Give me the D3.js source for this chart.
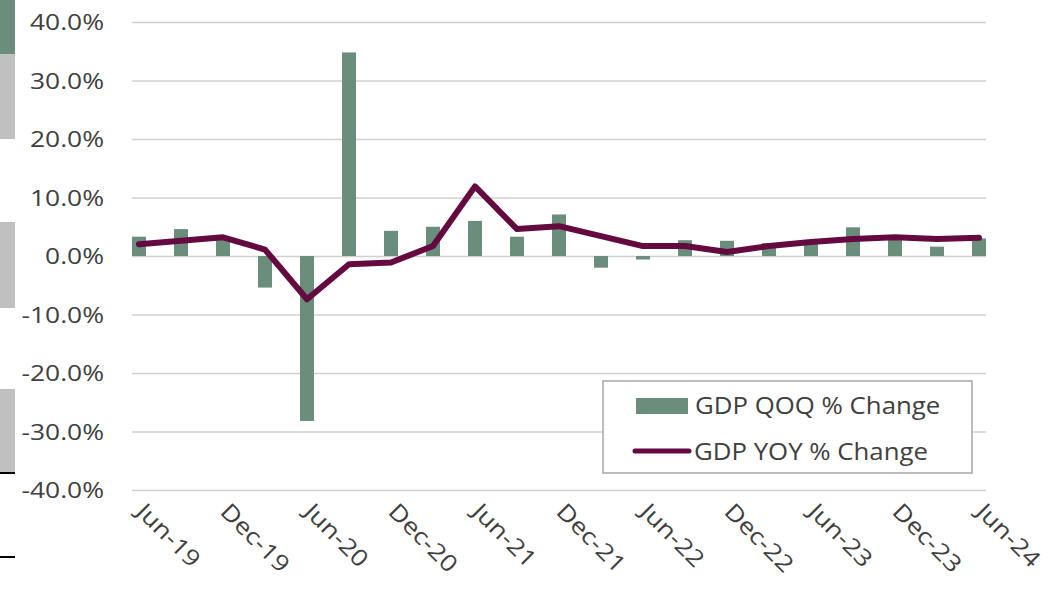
<!DOCTYPE html>
<html>
<head>
<meta charset="utf-8">
<script src="https://cdn.jsdelivr.net/npm/d3@7"></script>
<style>
  body { margin: 0; background: #fff; }
  svg { display: block; }
  text { font-family: "Open Sans", sans-serif; fill: #404040; }
</style>
</head>
<body>
<div id="chart"></div>
<script>
// quarters, Jun-19 .. Jun-24
let quarters = ["Jun-19","Sep-19","Dec-19","Mar-20","Jun-20","Sep-20","Dec-20","Mar-21","Jun-21","Sep-21","Dec-21",
  "Mar-22","Jun-22","Sep-22","Dec-22","Mar-23","Jun-23","Sep-23","Dec-23","Mar-24","Jun-24"]
let qoq = [3.3, 4.6, 3.0, -5.4, -28.2, 34.8, 4.3, 5.0, 6.0, 3.3, 7.1,
  -2.0, -0.6, 2.7, 2.6, 2.2, 2.1, 4.9, 3.4, 1.6, 3.0]
let yoy = [2.0, 2.6, 3.2, 1.1, -7.4, -1.4, -1.1, 1.7, 11.9, 4.6, 5.1,
  3.4, 1.7, 1.7, 0.7, 1.7, 2.4, 2.9, 3.2, 2.9, 3.1]
let yTicks = [-40, -30, -20, -10, 0, 10, 20, 30, 40]
let xLabels = ["Jun-19","Dec-19","Jun-20","Dec-20","Jun-21","Dec-21","Jun-22","Dec-22","Jun-23","Dec-23","Jun-24"]
let seriesNames = ["GDP QOQ % Change", "GDP YOY % Change"]

let barColor = "#6a8e7b", lineColor = "#640a40"

let svg = d3.select("#chart")
  .append("svg")
  .attr("width", 1050)
  .attr("height", 589)

// bits of the neighbouring slide on the left edge
let side = svg.append("g")
side.append("rect").attr("x", 0).attr("y", 0).attr("width", 15).attr("height", 54).style("fill", barColor)
side.append("rect").attr("x", 0).attr("y", 54).attr("width", 15).attr("height", 85).style("fill", "#c0c0c0")
side.append("rect").attr("x", 0).attr("y", 222).attr("width", 15).attr("height", 86).style("fill", "#c0c0c0")
side.append("rect").attr("x", 0).attr("y", 389).attr("width", 15).attr("height", 83).style("fill", "#c0c0c0")
side.append("rect").attr("x", 0).attr("y", 472).attr("width", 15).attr("height", 2).style("fill", "#000")
side.append("rect").attr("x", 0).attr("y", 556).attr("width", 15).attr("height", 2).style("fill", "#000")

let x = d3.scalePoint()
  .domain(quarters)
  .range([139, 979])

let y = d3.scaleLinear()
  .domain([-40, 40])
  .range([490, 22])

// gridlines
svg.append("g")
  .attr("transform", "translate(132,0)")
  .call(d3.axisLeft(y).tickValues(yTicks).tickSize(-854).tickFormat(""))
  .call(g => g.select(".domain").remove())
  .selectAll("line")
    .style("stroke", "#d0d0d0")
    .style("stroke-width", 1.5)

// y labels (text in the picture is a bit stretched sideways)
svg.append("g")
  .selectAll("text")
  .data(yTicks)
  .enter()
  .append("text")
    .attr("transform", d => "translate(104," + (y(d) + 8) + ") scale(1.2,1)")
    .style("text-anchor", "end")
    .style("font-size", "22px")
    .text(d => d.toFixed(1) + "%")

// bars
let barW = 14
svg.append("g")
  .selectAll("rect")
  .data(qoq)
  .enter()
  .append("rect")
    .attr("x", (d, i) => x(quarters[i]) - barW / 2)
    .attr("y", d => y(Math.max(0, d)))
    .attr("width", barW)
    .attr("height", d => Math.abs(y(d) - y(0)))
    .style("fill", barColor)

// line
let line = d3.line()
  .x((d, i) => x(quarters[i]))
  .y(d => y(d))

svg.append("path")
  .datum(yoy)
  .attr("d", line)
  .style("fill", "none")
  .style("stroke", lineColor)
  .style("stroke-width", 6)
  .style("stroke-linejoin", "round")
  .style("stroke-linecap", "round")

// x labels, rotated
svg.append("g")
  .selectAll("text")
  .data(xLabels)
  .enter()
  .append("text")
    .attr("transform", d => "translate(" + (x(d) - 4) + ",513) rotate(45) scale(1.16,1)")
    .style("font-size", "23px")
    .text(d => d)

// legend
let legend = svg.append("g")
legend.append("rect")
  .attr("x", 603).attr("y", 381)
  .attr("width", 369).attr("height", 92)
  .style("fill", "#fff")
  .style("stroke", "#a6a6a6")
  .style("stroke-width", 1.5)
legend.append("rect")
  .attr("x", 636).attr("y", 398)
  .attr("width", 52).attr("height", 16)
  .style("fill", barColor)
legend.append("line")
  .attr("x1", 635).attr("x2", 689)
  .attr("y1", 451).attr("y2", 451)
  .style("stroke", lineColor)
  .style("stroke-width", 5)
  .style("stroke-linecap", "round")
legend.append("text")
  .attr("transform", "translate(695,414) scale(1.075,1)")
  .style("font-size", "24px")
  .text(seriesNames[0])
legend.append("text")
  .attr("transform", "translate(694,460) scale(1.075,1)")
  .style("font-size", "24px")
  .text(seriesNames[1])
</script>
</body>
</html>
